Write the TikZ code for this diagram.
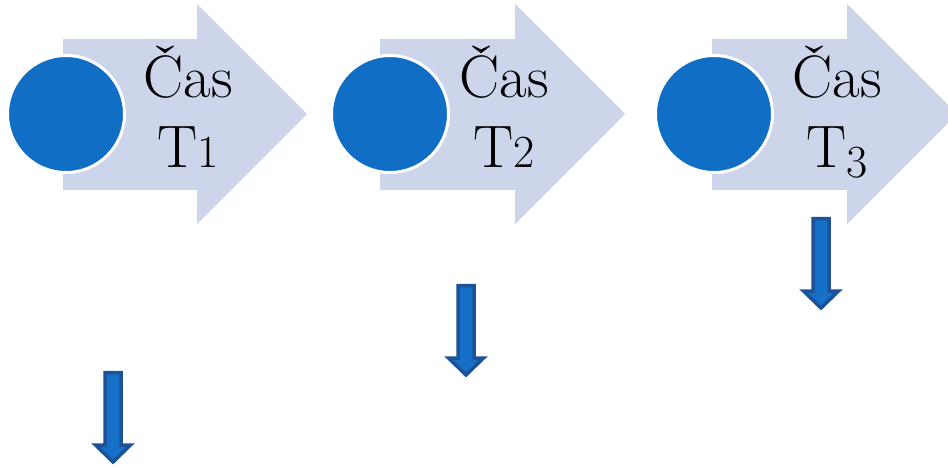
\documentclass[tikz,border=0pt]{standalone}
\usepackage{tikz}
\definecolor{pale}{RGB}{205,213,234}
\definecolor{dotblue}{RGB}{16,110,196}
\definecolor{rim}{RGB}{27,82,152}
\definecolor{shaftblue}{RGB}{22,112,200}
\newcommand{\smallnum}[2]{\raisebox{-#2pt}{\fontsize{46}{50}\selectfont #1}}
\tikzset{
  dot/.style={circle,fill=dotblue,draw=white,line width=3pt,minimum size=117pt,inner sep=0pt},
  lbl/.style={anchor=base,inner sep=0pt},
  down/.style={draw=rim,fill=shaftblue,line width=3.5pt,line join=miter}
}
\begin{document}
\begin{tikzpicture}[x=1pt,y=-1pt]
  \useasboundingbox (0,0) rectangle (948,467);
  % big arrows with a dot and a label
  \foreach \a/\h/\t/\c/\l/\n/\d in {63/197/307/66/188/1/0,380/515/625/390/504/2/0,712/847/957/714/837/3/10}{
    \fill[pale] (\a,39) -- (\h,39) -- (\h,4) -- (\t,114) -- (\h,224) -- (\h,190) -- (\a,190) -- cycle;
    \node[dot] (dot\n) at (\c,114) {};
    \node[lbl] (cas\n) at (\l,97) {\fontsize{60}{70}\selectfont Čas};
    \node[lbl] (t\n) at (\l,167) {\fontsize{60}{70}\selectfont T\smallnum{\n}{\d}};
  }
  % small arrows
  \foreach \x/\y in {113/371,466/284,821/217}{
    \draw[down] (\x-8,\y+1.5) -- (\x+8,\y+1.5) -- (\x+8,\y+74) -- (\x+17.5,\y+74) -- (\x,\y+91) -- (\x-17.5,\y+74) -- (\x-8,\y+74) -- cycle;
  }
\end{tikzpicture}
\end{document}
